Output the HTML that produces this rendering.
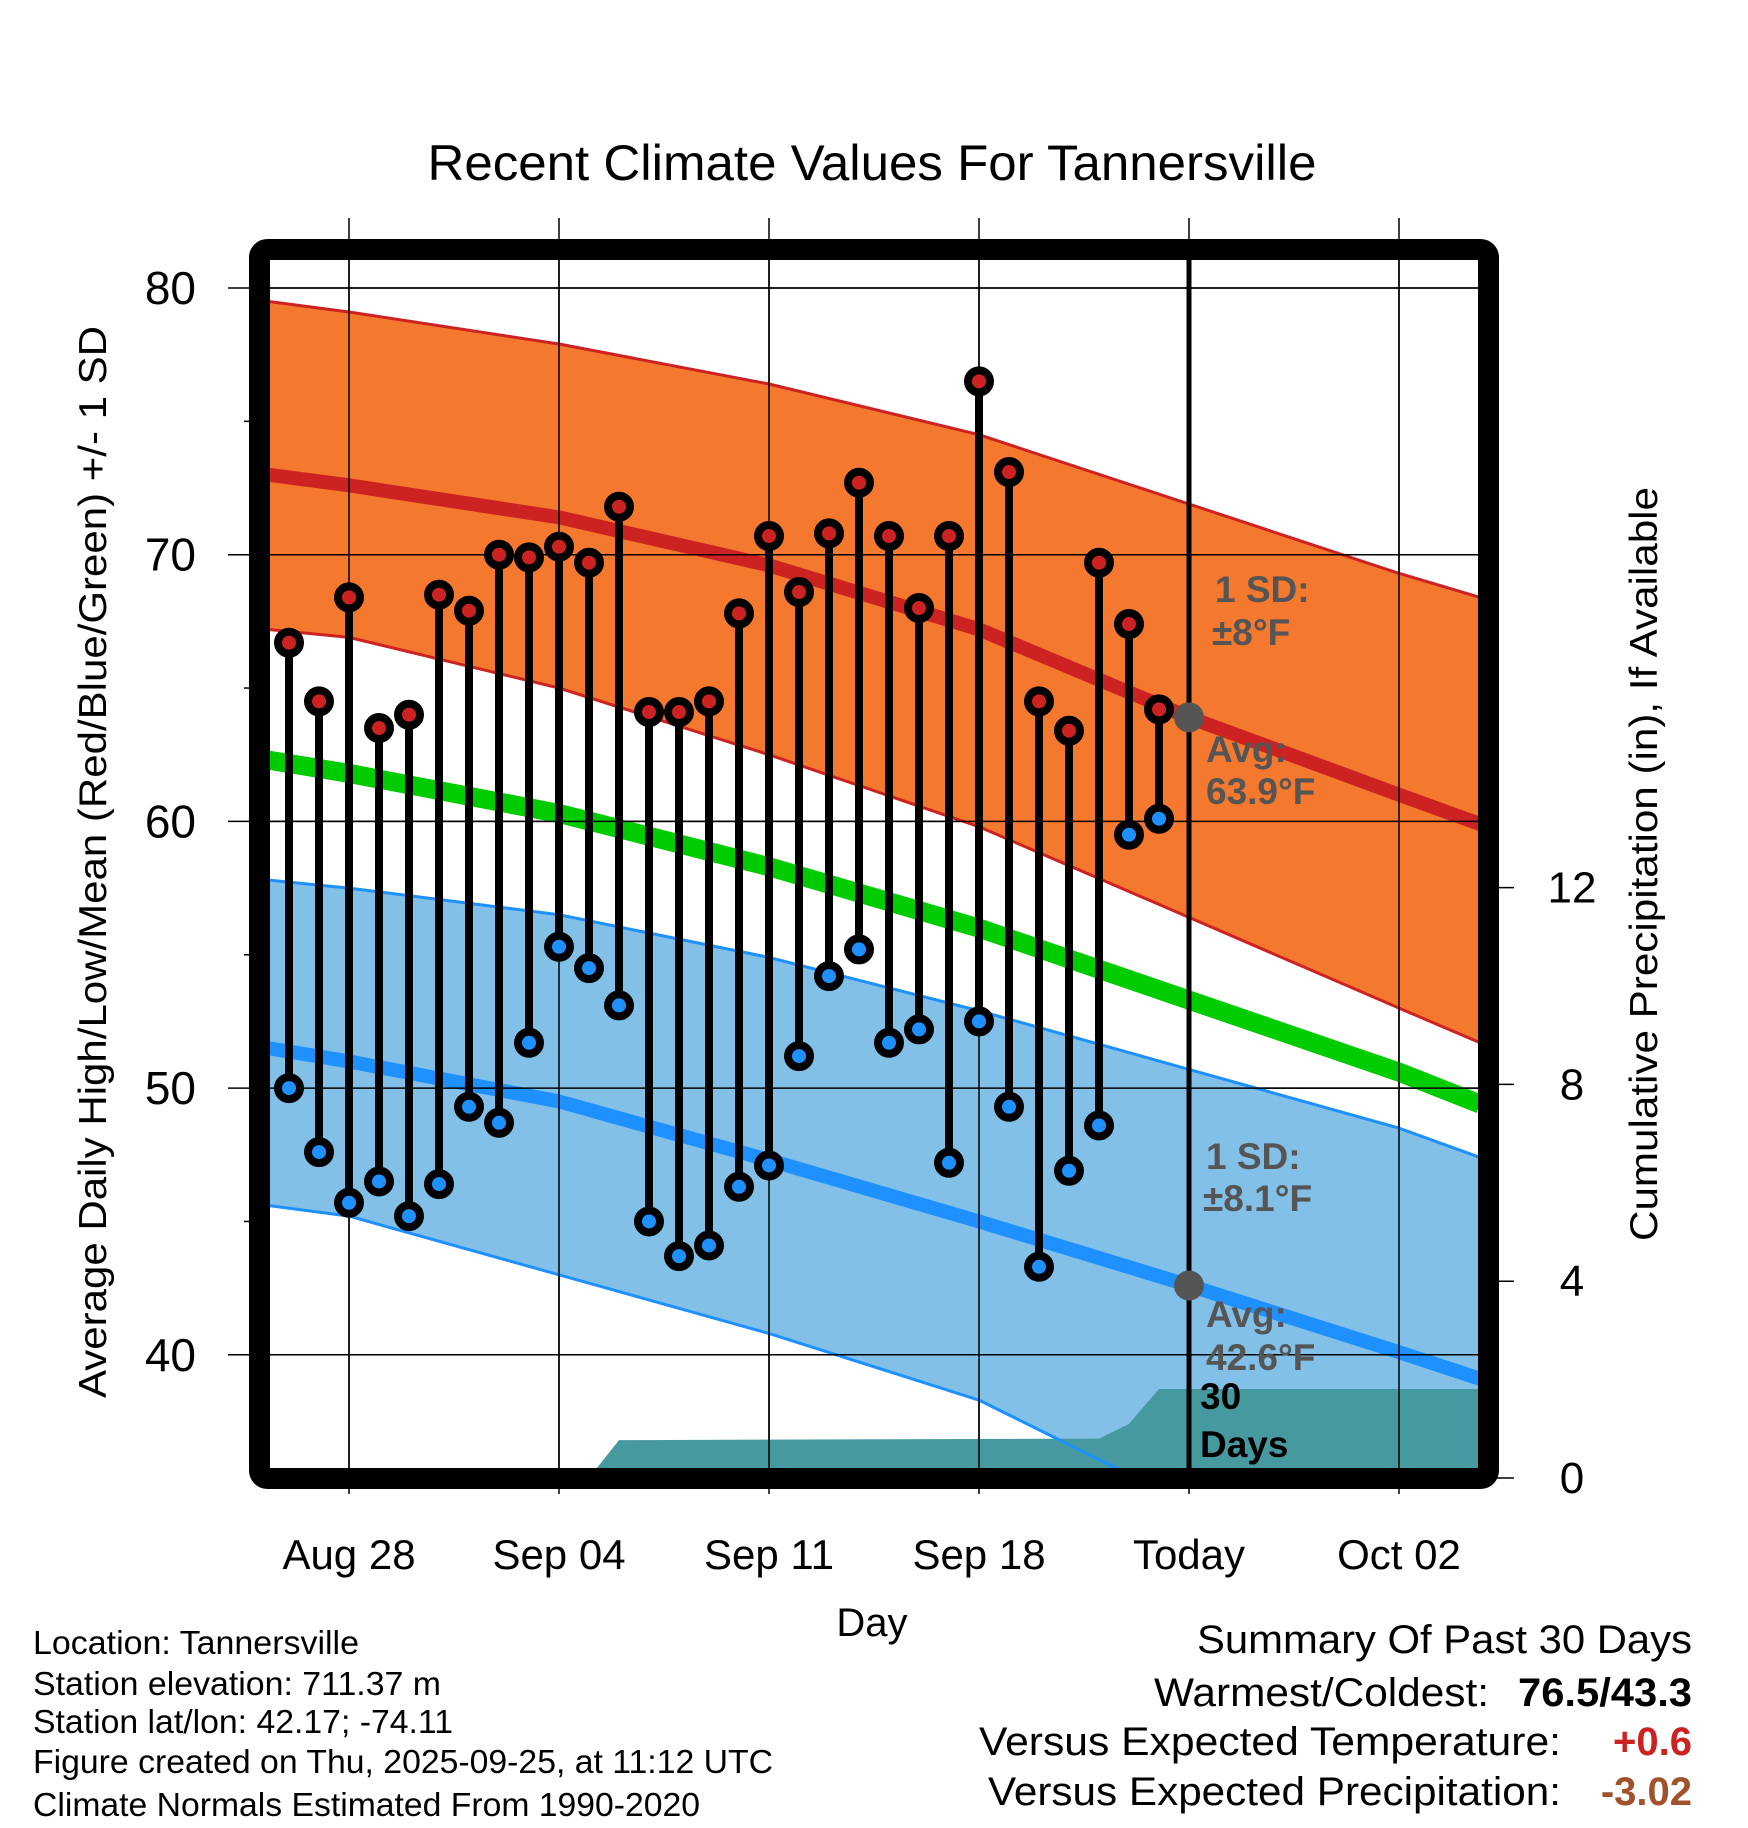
<!DOCTYPE html>
<html><head><meta charset="utf-8"><style>
html,body{margin:0;padding:0;background:#fff}
svg{display:block}
text{font-family:"Liberation Sans",Arial,sans-serif}
</style></head><body>
<svg id="chart" width="1748" height="1828" viewBox="0 0 1748 1828" xmlns="http://www.w3.org/2000/svg">
<defs><clipPath id="plotclip"><rect x="270" y="260" width="1208" height="1208"/></clipPath></defs>
<rect x="0" y="0" width="1748" height="1828" fill="#fff"/>
<g id="grid"></g>
<g id="plot" clip-path="url(#plotclip)"></g>
<g id="marks"></g>
<rect x="259.5" y="249.5" width="1229" height="1229" rx="8" fill="none" stroke="#000" stroke-width="21"/>
<g id="axes"></g>
<text x="872" y="180" font-size="50" text-anchor="middle" textLength="889" lengthAdjust="spacingAndGlyphs">Recent Climate Values For Tannersville</text>
<text transform="translate(106,862) rotate(-90)" font-size="39" text-anchor="middle" textLength="1072" lengthAdjust="spacingAndGlyphs">Average Daily High/Low/Mean (Red/Blue/Green) +/- 1 SD</text>
<text transform="translate(1657,864) rotate(-90)" font-size="39" text-anchor="middle" textLength="754" lengthAdjust="spacingAndGlyphs">Cumulative Precipitation (in), If Available</text>
<text x="872" y="1636" font-size="40" text-anchor="middle">Day</text>
<g font-size="33">
<text x="33" y="1654" textLength="326" lengthAdjust="spacingAndGlyphs">Location: Tannersville</text>
<text x="33" y="1695" textLength="408" lengthAdjust="spacingAndGlyphs">Station elevation: 711.37 m</text>
<text x="33" y="1733" textLength="420" lengthAdjust="spacingAndGlyphs">Station lat/lon: 42.17; -74.11</text>
<text x="33" y="1773" textLength="740" lengthAdjust="spacingAndGlyphs">Figure created on Thu, 2025-09-25, at 11:12 UTC</text>
<text x="33" y="1816" textLength="667" lengthAdjust="spacingAndGlyphs">Climate Normals Estimated From 1990-2020</text>
</g>
<g font-size="40">
<text x="1692" y="1653" text-anchor="end" textLength="495" lengthAdjust="spacingAndGlyphs">Summary Of Past 30 Days</text>
<text x="1489" y="1706" text-anchor="end" textLength="335" lengthAdjust="spacingAndGlyphs">Warmest/Coldest:</text>
<text x="1692" y="1706" text-anchor="end" font-weight="bold" textLength="174" lengthAdjust="spacingAndGlyphs">76.5/43.3</text>
<text x="1561" y="1755" text-anchor="end" textLength="582" lengthAdjust="spacingAndGlyphs">Versus Expected Temperature:</text>
<text x="1692" y="1755" text-anchor="end" font-weight="bold" fill="#CC2222">+0.6</text>
<text x="1561" y="1805" text-anchor="end" textLength="573" lengthAdjust="spacingAndGlyphs">Versus Expected Precipitation:</text>
<text x="1692" y="1805" text-anchor="end" font-weight="bold" fill="#A0522D">-3.02</text>
</g>
<script>
// day offsets relative to Aug 28
const obsDays = [-2,-1,0,1,2,3,4,5,6,7,8,9,10,11,12,13,14,15,16,17,18,19,20,21,22,23,24,25,26,27];
const highs = [66.7,64.5,68.4,63.5,64.0,68.5,67.9,70.0,69.9,70.3,69.7,71.8,64.1,64.1,64.5,67.8,70.7,68.6,70.8,72.7,70.7,68.0,70.7,76.5,73.1,64.5,63.4,69.7,67.4,64.2];
const lows = [50.0,47.6,45.7,46.5,45.2,46.4,49.3,48.7,51.7,55.3,54.5,53.1,45.0,43.7,44.1,46.3,47.1,51.2,54.2,55.2,51.7,52.2,47.2,52.5,49.3,43.3,46.9,48.6,59.5,60.1];
const normDays = [-2.7,0,7,14,21,28,35,37.7];
const highUpper = [79.5,79.1,77.9,76.4,74.5,71.9,69.3,68.4];
const highMean = [73.0,72.6,71.4,69.6,67.2,63.9,61.0,59.9];
const highLower = [67.2,66.9,65.0,62.5,59.8,56.4,53.0,51.7];
const dailyMean = [62.3,61.8,60.3,58.3,56.0,53.3,50.6,49.4];
const lowUpper = [57.8,57.5,56.5,54.9,52.9,50.7,48.5,47.4];
const lowMean = [51.5,51.0,49.5,47.3,45.0,42.6,40.1,39.1];
const lowLower = [45.6,45.2,43.0,40.8,38.3,34.4,31.5,30.5];
const precipDays = [-2,8,9,25,26,27,37.7];
const precipCum = [0,0,0.77,0.8,1.1,1.81,1.81];
const xTickDays = [0,7,14,21,28,35];
const xTickLabels = ["Aug 28","Sep 04","Sep 11","Sep 18","Today","Oct 02"];
const yTicks = [40,50,60,70,80];
const yMinorTicks = [45,55,65,75];
const precipTicks = [0,4,8,12];
const todayDay = 28;
const todayHigh = 63.9, todayLow = 42.6;

const NS="http://www.w3.org/2000/svg";
const X = d => 349 + d*30;
const Y = t => 288 + (80 - t)*26.67;
const P = p => 1478 - p*49.2;
function mk(tag, attrs, parent){const e=document.createElementNS(NS,tag);for(const k in attrs)e.setAttribute(k,attrs[k]);parent.appendChild(e);return e;}
const grid=document.getElementById('grid'), plot=document.getElementById('plot'), marks=document.getElementById('marks'), axes=document.getElementById('axes');

yTicks.forEach(t=>{
  const l=mk('line',{x1:228,x2:1478,y1:Y(t),y2:Y(t),stroke:'#000','stroke-width':1.5},grid);
  
  
  const tx=mk('text',{x:196,y:Y(t)+16,'font-size':46,'text-anchor':'end'},axes);
  tx.textContent=t;
  
  
});
yMinorTicks.forEach(t=>{
  const l=mk('line',{x1:244,x2:260,y1:Y(t),y2:Y(t),stroke:'#000','stroke-width':1.5},grid);
  
  
});
xTickDays.forEach((d,i)=>{
  const l=mk('line',{x1:X(d),x2:X(d),y1:218,y2:1494,stroke:'#000','stroke-width':1.5},grid);
  
  
  const tx=mk('text',{x:X(d),y:1569,'font-size':42,'text-anchor':'middle'},axes);
  tx.textContent=xTickLabels[i];
  
  
});
precipTicks.forEach(p=>{
  const l=mk('line',{x1:1490,x2:1514,y1:P(p),y2:P(p),stroke:'#000','stroke-width':1.5},axes);
  
  
  const tx=mk('text',{x:1572,y:P(p)+15,'font-size':44,'text-anchor':'middle'},axes);
  tx.textContent=p;
  
  
});

function linePts(arr){return normDays.map((d,i)=>X(d)+','+Y(arr[i])).join(' ');}
function band(up,lo,fill,name){
  const pts=normDays.map((d,i)=>X(d)+','+Y(up[i])).concat(normDays.slice().reverse().map((d,j)=>{const i=normDays.length-1-j;return X(d)+','+Y(lo[i]);}));
  const p=mk('polygon',{points:pts.join(' '),fill:fill},plot);
  
  
}
function line(arr,color,w,name){
  const p=mk('polyline',{points:linePts(arr),fill:'none',stroke:color,'stroke-width':w,'stroke-linejoin':'round'},plot);
  
  
}
band(highUpper,highLower,'#F4782E','high-sd-band');
band(lowUpper,lowLower,'#82C0E8','low-sd-band');
{
  const pts=[X(precipDays[0])+','+P(0)].concat(precipDays.map((d,i)=>X(d)+','+P(precipCum[i]))).concat([X(precipDays[precipDays.length-1])+','+P(0)]);
  const p=mk('polygon',{points:pts.join(' '),fill:'#46999F'},plot);
  
  
}
line(highUpper,'#CC2222',3,'high-sd-upper-line');
line(highLower,'#CC2222',3,'high-sd-lower-line');
line(lowUpper,'#1E90FF',3,'low-sd-upper-line');
line(lowLower,'#1E90FF',3,'low-sd-lower-line');
line(dailyMean,'#00CC00',19,'normal-mean-line');
line(highMean,'#CC2222',14,'normal-high-line');
line(lowMean,'#1E90FF',14,'normal-low-line');
yTicks.forEach(t=>{
  const l=mk('line',{x1:270,x2:1478,y1:Y(t),y2:Y(t),stroke:'#000','stroke-width':1.5},plot);
  
  
});
xTickDays.forEach(d=>{
  const l=mk('line',{x1:X(d),x2:X(d),y1:260,y2:1468,stroke:'#000','stroke-width':1.5},plot);
  
  
});
{
  const l=mk('line',{x1:X(todayDay),x2:X(todayDay),y1:260,y2:1468,stroke:'#000','stroke-width':5},marks);
  
  
}
obsDays.forEach((d,i)=>{
  const s=mk('line',{x1:X(d),x2:X(d),y1:Y(highs[i]),y2:Y(lows[i]),stroke:'#000','stroke-width':8},marks);
  
  
});
obsDays.forEach((d,i)=>{
  const h=mk('circle',{cx:X(d),cy:Y(highs[i]),r:11,fill:'#CC2222',stroke:'#000','stroke-width':8},marks);
  
  
  const l=mk('circle',{cx:X(d),cy:Y(lows[i]),r:11,fill:'#1E90FF',stroke:'#000','stroke-width':8},marks);
  
  
});
{
  const a=mk('circle',{cx:X(todayDay),cy:Y(todayHigh),r:15,fill:'#555'},marks);
  
  
  const b=mk('circle',{cx:X(todayDay),cy:Y(todayLow),r:15,fill:'#555'},marks);
  
  
}
const ann=[
 [1215,602,'1 SD:','#555','high-sd-label'],
 [1212,645,'±8°F','#555','high-sd-value'],
 [1206,762,'Avg:','#555','high-avg-label'],
 [1206,804,'63.9°F','#555','high-avg-value'],
 [1206,1169,'1 SD:','#555','low-sd-label'],
 [1203,1211,'±8.1°F','#555','low-sd-value'],
 [1206,1327,'Avg:','#555','low-avg-label'],
 [1206,1370,'42.6°F','#555','low-avg-value'],
 [1200,1409,'30','#000','precip-days-label'],
 [1200,1457,'Days','#000','precip-days-label2']
];
ann.forEach(a=>{
  const t=mk('text',{x:a[0],y:a[1],'font-size':37,'font-weight':'bold',fill:a[3]},marks);
  t.textContent=a[2];
  
  
});
</script>
</svg>
</body></html>
